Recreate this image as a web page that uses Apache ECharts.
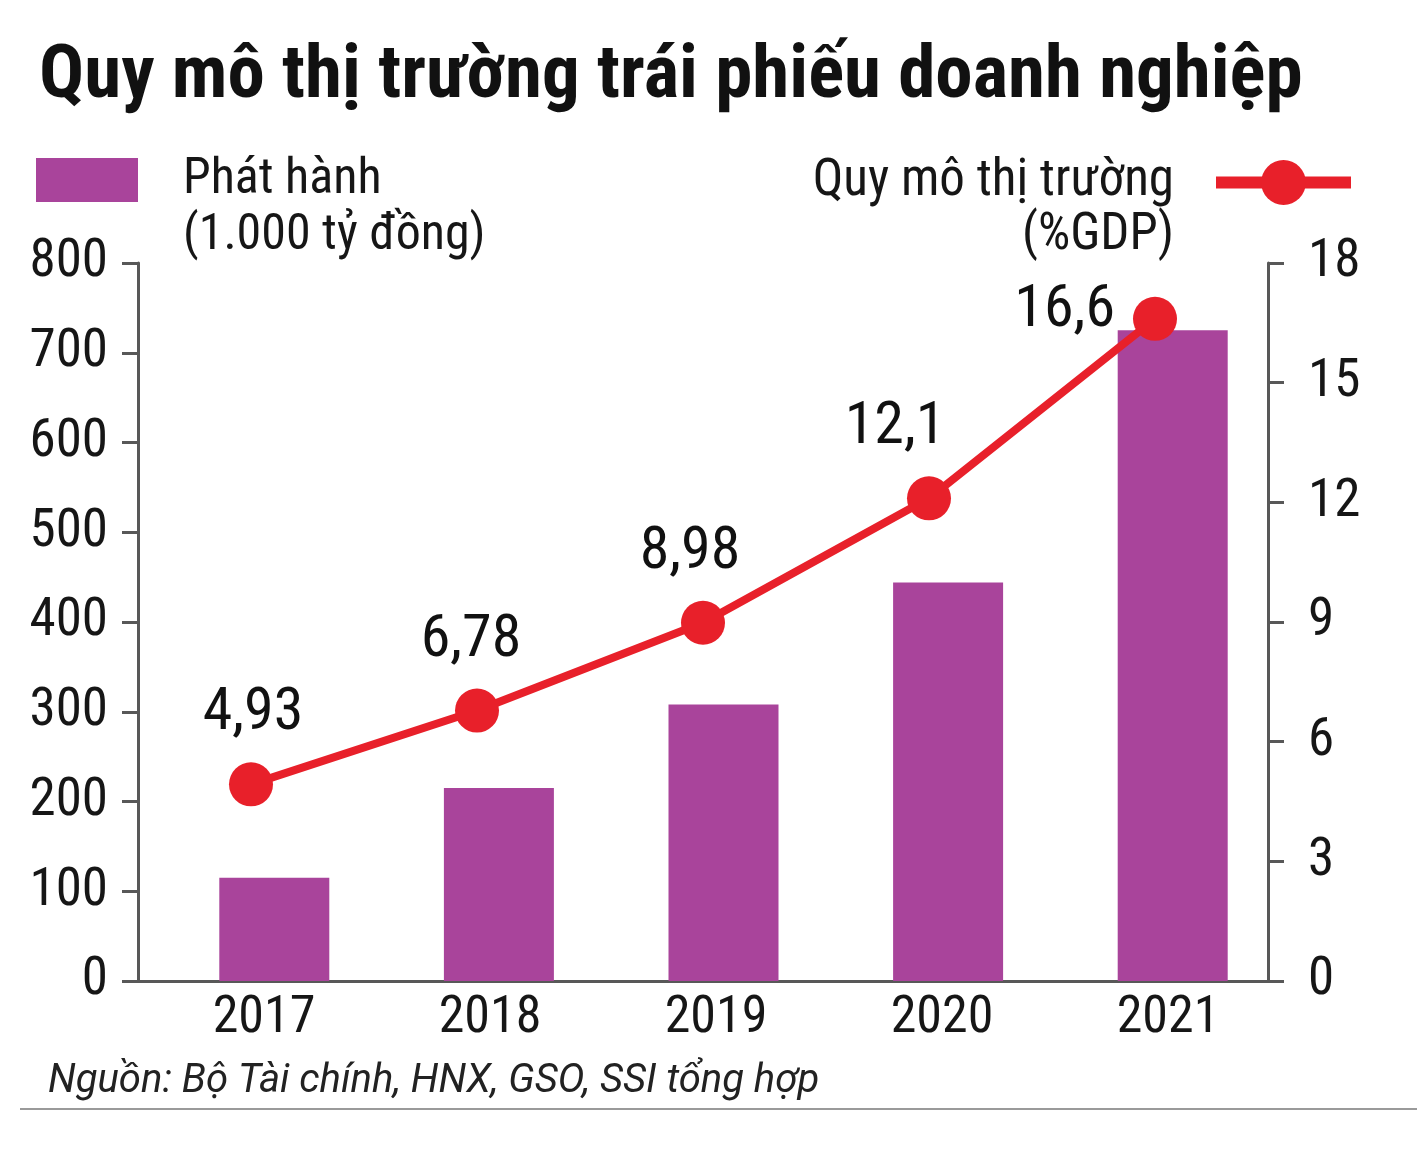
<!DOCTYPE html>
<html><head><meta charset="utf-8">
<script src="https://cdn.jsdelivr.net/npm/echarts@6/dist/echarts.min.js"></script>
<style>html,body{margin:0;padding:0;background:#fff}#c{width:1417px;height:1158px}</style>
</head><body><div id="c"></div>
<script>
// ---- data ----
const years = ['2017', '2018', '2019', '2020', '2021'];
const issuance = [115, 215, 308, 444, 725];          // Phát hành (1.000 tỷ đồng)
const marketSizeGDP = [4.93, 6.78, 8.98, 12.1, 16.6]; // Quy mô thị trường (%GDP)
const leftAxisMin = 0, leftAxisMax = 800, leftAxisStep = 100;
const rightAxisMin = 0, rightAxisMax = 18, rightAxisStep = 3;

const titleText = 'Quy mô thị trường trái phiếu doanh nghiệp';
const barName = 'Phát hành';
const barUnit = '(1.000 tỷ đồng)';
const lineName = 'Quy mô thị trường';
const lineUnit = '(%GDP)';
const sourceText = 'Nguồn: Bộ Tài chính, HNX, GSO, SSI tổng hợp';

// ---- styles ----
const FONT = '"Roboto Condensed", "Liberation Sans Narrow", Roboto, sans-serif';
const BAR_COLOR = '#A9449B';
const RED = '#E8202A';
const AXIS_COLOR = '#585858';
const TEXT = '#161616';
const labelStyles = [
  { position: 'top', offset: [2, 0] },
  { position: 'top', offset: [-6, 0] },
  { position: 'top', offset: [-13, 0] },
  { position: 'top', offset: [-34, 0] },
  { position: 'left', offset: [0, -8] }
];

const chart = echarts.init(document.getElementById('c'), null, { renderer: 'canvas' });
const fmt = v => String(v).replace('.', ',');

const option = {
  animation: false,
  backgroundColor: '#fff',
  title: {
    text: titleText, left: 34, top: 36,
    textStyle: { fontFamily: FONT, fontSize: 75, fontWeight: 'bold', color: '#111' }
  },
  legend: [
    {
      data: [barName], left: 36, top: 155, padding: 0, selectedMode: false,
      icon: 'rect', itemWidth: 102, itemHeight: 44,
      textStyle: { fontFamily: FONT, fontSize: 50, color: TEXT, padding: [26, 0, 0, 40] }
    },
    {
      data: [lineName], right: 60, top: 157, padding: 0, selectedMode: false, align: 'right',
      itemWidth: 135, itemHeight: 56,
      lineStyle: { width: 12, color: RED },
      textStyle: { fontFamily: FONT, fontSize: 51, color: TEXT, padding: [20, 37, 0, 0] }
    }
  ],
  grid: [
    { left: 138, right: 149, top: 263, bottom: 177, containLabel: false },
    { left: 162, right: 132, top: 263, bottom: 177, containLabel: false }
  ],
  xAxis: [
    {
      type: 'category', gridIndex: 0, data: years, boundaryGap: true,
      axisLine: { lineStyle: { color: AXIS_COLOR, width: 3 } },
      axisTick: { show: false },
      axisLabel: { fontFamily: FONT, fontSize: 52, color: TEXT, margin: 12, padding: [0, 0, 0, 26] }
    },
    {
      type: 'category', gridIndex: 1, data: years, boundaryGap: true,
      show: false
    }
  ],
  yAxis: [
    {
      type: 'value', gridIndex: 0, position: 'left',
      min: leftAxisMin, max: leftAxisMax, interval: leftAxisStep,
      axisLine: { show: true, lineStyle: { color: AXIS_COLOR, width: 3 } },
      axisTick: { show: true, length: 16, lineStyle: { color: AXIS_COLOR, width: 3 } },
      axisLabel: { fontFamily: FONT, fontSize: 53, color: TEXT, margin: 30 },
      splitLine: { show: false }
    },
    {
      type: 'value', gridIndex: 0, position: 'right',
      min: rightAxisMin, max: rightAxisMax, interval: rightAxisStep,
      axisLine: { show: true, lineStyle: { color: AXIS_COLOR, width: 3 } },
      axisTick: { show: true, length: 16, lineStyle: { color: AXIS_COLOR, width: 3 } },
      axisLabel: { fontFamily: FONT, fontSize: 53, color: TEXT, margin: 40 },
      splitLine: { show: false }
    },
    {
      type: 'value', gridIndex: 1, min: leftAxisMin, max: leftAxisMax, interval: leftAxisStep,
      show: false, splitLine: { show: false }
    }
  ],
  series: [
    {
      name: barName, type: 'bar', xAxisIndex: 1, yAxisIndex: 2,
      data: issuance, barWidth: 110,
      itemStyle: { color: BAR_COLOR }
    },
    {
      name: lineName, type: 'line', xAxisIndex: 0, yAxisIndex: 1,
      data: marketSizeGDP.map((v, i) => ({
        value: v,
        label: labelStyles[i]
      })),
      symbol: 'circle', symbolSize: 44,
      itemStyle: { color: RED },
      lineStyle: { color: RED, width: 8 },
      label: {
        show: true, distance: 18,
        fontFamily: FONT, fontSize: 60, color: '#111',
        formatter: p => fmt(p.value)
      },
      z: 5
    }
  ],
  graphic: [
    {
      type: 'text', left: 183, top: 211,
      style: { text: barUnit, font: '50px ' + FONT, fill: TEXT }
    },
    {
      type: 'text', right: 243, top: 211,
      style: { text: lineUnit, font: '51px ' + FONT, fill: TEXT, textAlign: 'right' }
    },
    {
      type: 'text', left: 48, top: 1062,
      style: { text: sourceText, font: 'italic 40px Roboto, sans-serif', fill: '#222' }
    },
    {
      type: 'line', shape: { x1: 20, y1: 1109, x2: 1417, y2: 1109 },
      style: { stroke: '#9a9a9a', lineWidth: 2 }
    }
  ]
};
chart.setOption(option);
</script>
</body></html>
